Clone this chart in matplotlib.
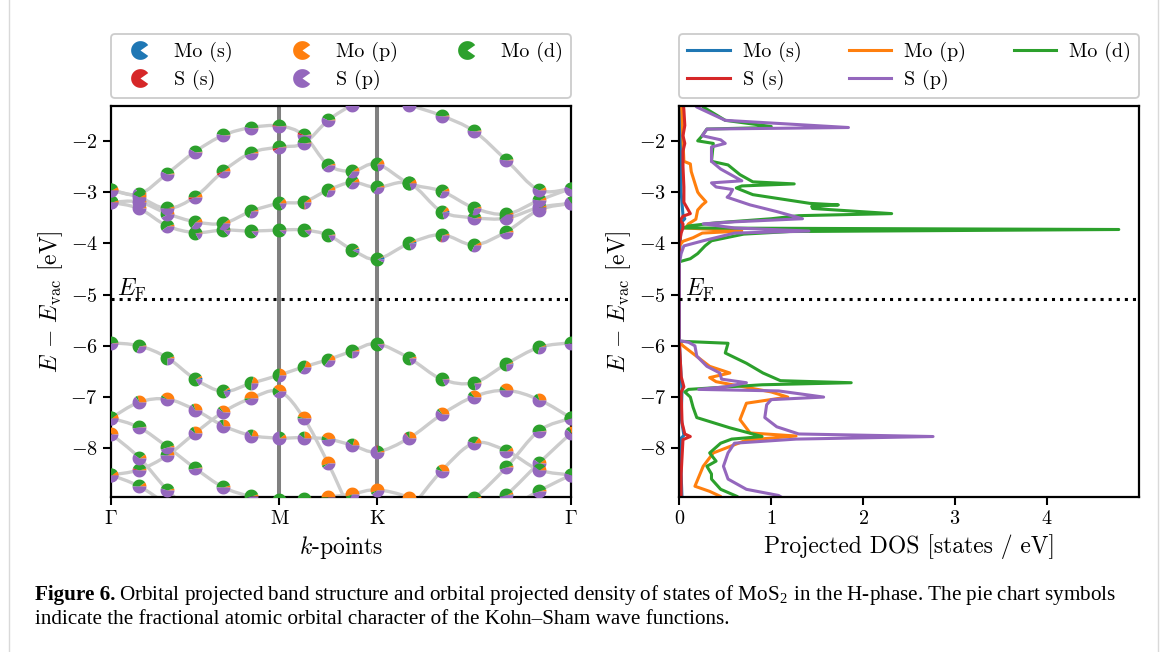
import numpy as np
import matplotlib
matplotlib.use('Agg')
import matplotlib.pyplot as plt
import matplotlib.transforms as mtransforms
from matplotlib.path import Path
from matplotlib.patches import PathPatch
from matplotlib.lines import Line2D

plt.rcParams['font.family'] = 'serif'
plt.rcParams['font.serif'] = ['cmr10']
plt.rcParams['mathtext.fontset'] = 'cm'
plt.rcParams['axes.formatter.use_mathtext'] = True
plt.rcParams['axes.unicode_minus'] = True

# ---------------------------------------------------------------- data
orbitals = ['Mo (s)', 'Mo (p)', 'Mo (d)', 'S (s)', 'S (p)']
orbital_colors = ['#1f77b4', '#ff7f0e', '#2ca02c', '#d62728', '#9467bd']

# hexagonal path Gamma-M-K-Gamma (units of 2pi/a) and k-points per segment
segment_lengths = [1 / np.sqrt(3), 1 / 3, 2 / 3]
segment_points = [6, 4, 6]
sym_labels = [r'$\Gamma$', 'M', 'K', r'$\Gamma$']

fermi_level = -5.09

# band energies at the 17 k-points (eV vs vacuum)
cb1 = [-3.20, -3.32, -3.66, -3.79, -3.74, -3.76, -3.74, -3.74, -3.84, -4.13, -4.31, -4.00, -3.83, -4.03, -3.77, -3.35, -3.22]
cb2 = [-3.20, -3.19, -3.42, -3.58, -3.61, -3.37, -3.22, -3.19, -2.96, -2.81, -2.91, -2.83, -3.38, -3.50, -3.51, -3.30, -3.22]
cb3 = [-2.96, -3.04, -2.64, -2.21, -1.89, -1.74, -1.71, -1.89, -2.47, -2.59, -2.45, -2.83, -2.98, -3.31, -3.43, -3.16, -2.93]
cb4 = [-2.96, -3.10, -3.32, -3.09, -2.59, -2.23, -2.12, -2.05, -1.60, -1.30, -1.10, -1.30, -1.51, -1.81, -2.38, -2.96, -2.93]
vb1 = [-5.94, -6.00, -6.23, -6.65, -6.89, -6.73, -6.57, -6.41, -6.27, -6.10, -5.96, -6.24, -6.65, -6.72, -6.35, -6.03, -5.94]
vb2 = [-7.41, -7.10, -7.04, -7.25, -7.56, -7.75, -7.80, -7.79, -7.82, -7.94, -8.07, -7.80, -7.34, -6.99, -6.87, -7.05, -7.41]
vb3 = [-8.52, -8.42, -8.14, -7.70, -7.29, -7.02, -6.89, -7.41, -8.29, -9.25, -9.60, -9.50, -9.30, -8.97, -8.37, -7.66, -7.41]
vb4 = [-7.41, -7.59, -7.97, -8.39, -8.76, -8.94, -9.00, -8.98, -8.95, -8.89, -8.81, -8.96, -9.30, -9.70, -9.80, -9.80, -9.80]
vb5 = [-7.72, -8.18, -8.81, -9.30, -9.70, -9.80, -9.80, -9.80, -9.80, -9.80, -9.80, -9.80, -9.80, -9.40, -8.91, -8.29, -7.70]
vb6 = [-8.52, -8.74, -9.10, -9.50, -9.80, -9.80, -9.80, -9.80, -9.80, -9.80, -9.80, -9.20, -8.44, -7.90, -8.05, -8.42, -8.52]
vb7 = [-9.80, -9.80, -9.80, -9.80, -9.80, -9.80, -9.80, -9.80, -9.80, -9.80, -9.80, -9.80, -9.80, -9.50, -9.20, -8.83, -8.52]
bands = [cb1, cb2, cb3, cb4, vb1, vb2, vb3, vb4, vb5, vb6, vb7]

# Mo (d) and Mo (p) weights per band and k-point; S (p) takes the rest
mo_d_weight = [
    [0.30, 0.35, 0.55, 0.80, 0.85, 0.85, 0.88, 0.85, 0.80, 0.85, 0.85, 0.70, 0.65, 0.60, 0.50, 0.35, 0.30],
    [0.30, 0.30, 0.50, 0.55, 0.55, 0.65, 0.70, 0.65, 0.60, 0.55, 0.60, 0.70, 0.65, 0.40, 0.45, 0.35, 0.30],
    [0.35, 0.30, 0.40, 0.40, 0.45, 0.45, 0.45, 0.40, 0.55, 0.55, 0.65, 0.70, 0.60, 0.65, 0.55, 0.40, 0.35],
    [0.35, 0.35, 0.45, 0.40, 0.45, 0.50, 0.50, 0.45, 0.40, 0.40, 0.40, 0.40, 0.45, 0.45, 0.45, 0.35, 0.35],
    [0.50, 0.65, 0.70, 0.75, 0.72, 0.55, 0.45, 0.45, 0.50, 0.70, 0.85, 0.75, 0.80, 0.75, 0.70, 0.65, 0.50],
    [0.45, 0.05, 0.05, 0.05, 0.10, 0.15, 0.15, 0.15, 0.10, 0.20, 0.20, 0.10, 0.05, 0.10, 0.10, 0.10, 0.45],
    [0.35, 0.40, 0.40, 0.10, 0.05, 0.05, 0.20, 0.05, 0.05, 0.05, 0.05, 0.05, 0.05, 0.50, 0.50, 0.50, 0.45],
    [0.45, 0.50, 0.50, 0.50, 0.45, 0.50, 0.60, 0.60, 0.10, 0.10, 0.05, 0.05, 0.40, 0.40, 0.40, 0.40, 0.40],
    [0.10, 0.30, 0.40, 0.40, 0.40, 0.40, 0.40, 0.40, 0.40, 0.40, 0.40, 0.40, 0.40, 0.40, 0.45, 0.30, 0.10],
    [0.35, 0.40, 0.40, 0.40, 0.40, 0.40, 0.40, 0.40, 0.40, 0.40, 0.40, 0.40, 0.10, 0.30, 0.40, 0.30, 0.35],
    [0.40, 0.40, 0.40, 0.40, 0.40, 0.40, 0.40, 0.40, 0.40, 0.40, 0.40, 0.40, 0.40, 0.40, 0.45, 0.50, 0.35],
]
mo_p_weight = [
    [0.05, 0.05, 0.05, 0.03, 0.02, 0.02, 0.02, 0.03, 0.03, 0.03, 0.02, 0.05, 0.05, 0.08, 0.05, 0.05, 0.05],
    [0.05, 0.05, 0.08, 0.10, 0.10, 0.05, 0.12, 0.10, 0.10, 0.10, 0.05, 0.10, 0.10, 0.05, 0.08, 0.05, 0.05],
    [0.08, 0.05, 0.03, 0.02, 0.02, 0.02, 0.02, 0.03, 0.05, 0.10, 0.12, 0.10, 0.08, 0.05, 0.05, 0.08, 0.08],
    [0.08, 0.08, 0.05, 0.10, 0.10, 0.05, 0.03, 0.03, 0.03, 0.03, 0.03, 0.03, 0.03, 0.03, 0.03, 0.08, 0.08],
    [0.02, 0.03, 0.05, 0.05, 0.05, 0.20, 0.25, 0.20, 0.15, 0.05, 0.02, 0.05, 0.02, 0.03, 0.03, 0.03, 0.02],
    [0.10, 0.30, 0.40, 0.30, 0.25, 0.20, 0.10, 0.25, 0.40, 0.20, 0.05, 0.25, 0.35, 0.35, 0.40, 0.30, 0.10],
    [0.10, 0.05, 0.10, 0.30, 0.35, 0.50, 0.40, 0.45, 0.55, 0.50, 0.50, 0.50, 0.50, 0.05, 0.05, 0.02, 0.10],
    [0.10, 0.02, 0.05, 0.03, 0.05, 0.05, 0.05, 0.05, 0.50, 0.55, 0.55, 0.50, 0.10, 0.10, 0.10, 0.10, 0.10],
    [0.30, 0.10, 0.05, 0.10, 0.10, 0.10, 0.10, 0.10, 0.10, 0.10, 0.10, 0.10, 0.10, 0.10, 0.05, 0.10, 0.30],
    [0.10, 0.10, 0.10, 0.10, 0.10, 0.10, 0.10, 0.10, 0.10, 0.10, 0.10, 0.10, 0.35, 0.15, 0.10, 0.10, 0.10],
    [0.10, 0.10, 0.10, 0.10, 0.10, 0.10, 0.10, 0.10, 0.10, 0.10, 0.10, 0.10, 0.10, 0.10, 0.10, 0.05, 0.10],
]
# small s contributions: (band, k-point) -> weight
mo_s_weight = {(0, 9): 0.05, (0, 10): 0.06, (0, 11): 0.04, (1, 12): 0.04, (4, 3): 0.04,
               (4, 4): 0.05, (4, 14): 0.03, (4, 15): 0.03, (5, 8): 0.02, (8, 14): 0.03}
s_s_weight = {(3, 3): 0.05, (3, 4): 0.05, (3, 6): 0.06, (2, 6): 0.03, (2, 7): 0.05,
              (1, 7): 0.03, (0, 12): 0.03, (5, 10): 0.03, (5, 11): 0.03, (6, 1): 0.03}

# projected DOS curves (energy, states / eV)
mo_s_energy = [-1.2, -2.0, -3.0, -3.45, -3.52, -3.60, -4.0, -4.35, -5.9, -6.6, -6.85, -7.4, -7.75, -7.80, -8.5, -9.0]
mo_s_dos = [0.02, 0.02, 0.02, 0.04, 0.06, 0.02, 0.01, 0.0, 0.0, 0.02, 0.03, 0.02, 0.05, 0.02, 0.02, 0.03]

mo_p_energy = [-1.2, -1.5, -2.0, -2.40, -2.45, -2.60, -2.83, -3.00, -3.05, -3.19, -3.25, -3.35, -3.53, -3.62,
               -3.70, -3.76, -3.80, -3.89, -3.96, -4.05, -5.92, -6.00, -6.40, -6.53, -6.62, -6.70, -6.90,
               -7.00, -7.12, -7.44, -7.70, -7.76, -7.84, -8.09, -8.35, -8.74, -8.84, -8.94, -9.05]
mo_p_dos = [0.02, 0.03, 0.04, 0.05, 0.12, 0.13, 0.17, 0.20, 0.22, 0.29, 0.25, 0.20, 0.18, 0.10,
            0.07, 0.68, 0.25, 0.15, 0.04, 0.0, 0.0, 0.04, 0.33, 0.55, 0.33, 0.40, 1.00,
            1.18, 0.73, 0.66, 0.77, 1.27, 0.73, 0.37, 0.26, 0.17, 0.33, 0.45, 0.50]

mo_d_energy = [-1.2, -1.34, -1.60, -1.72, -1.74, -1.77, -1.92, -2.00, -2.05, -2.40, -2.47, -2.66, -2.80,
               -2.84, -2.88, -2.92, -3.05, -3.22, -3.25, -3.28, -3.32, -3.42, -3.46, -3.52, -3.60, -3.66,
               -3.70, -3.73, -3.77, -3.82, -3.95, -4.05, -4.20, -4.30, -4.36, -5.91, -5.95, -6.14, -6.34,
               -6.53, -6.68, -6.72, -6.76, -6.85, -6.90, -7.00, -7.20, -7.40, -7.60, -7.72, -7.77, -7.82,
               -7.90, -8.09, -8.25, -8.35, -8.50, -8.60, -8.80, -8.94, -9.05]
mo_d_dos = [0.22, 0.26, 0.50, 1.00, 0.97, 0.30, 0.24, 0.20, 0.37, 0.35, 0.53, 0.66, 0.80,
            1.25, 0.68, 0.62, 0.80, 1.42, 1.73, 1.44, 1.45, 2.31, 1.30, 1.00, 0.40, 0.10,
            0.05, 4.78, 1.20, 0.70, 0.35, 0.28, 0.20, 0.12, 0.0, 0.0, 0.53, 0.50, 0.73,
            0.91, 1.10, 1.87, 0.90, 0.10, 0.06, 0.12, 0.15, 0.19, 0.55, 0.80, 0.90, 0.57,
            0.45, 0.33, 0.40, 0.30, 0.35, 0.35, 0.45, 0.63, 0.70]

s_s_energy = [-1.2, -1.4, -1.7, -1.9, -2.05, -2.2, -2.5, -2.9, -3.2, -3.42, -3.47, -3.55, -3.62, -3.70, -3.80,
              -4.0, -5.9, -6.6, -6.80, -6.9, -7.5, -7.72, -7.77, -7.83, -8.5, -9.0]
s_s_dos = [0.04, 0.05, 0.06, 0.04, 0.06, 0.04, 0.04, 0.05, 0.05, 0.12, 0.04, 0.01, 0.04, 0.04, 0.02,
           0.0, 0.0, 0.02, 0.05, 0.02, 0.03, 0.06, 0.12, 0.04, 0.02, 0.02]

s_p_energy = [-1.2, -1.34, -1.60, -1.74, -1.77, -1.90, -1.98, -2.05, -2.12, -2.40, -2.55, -2.78, -2.82,
              -2.90, -2.95, -3.05, -3.10, -3.25, -3.38, -3.52, -3.58, -3.62, -3.70, -3.76, -3.80, -3.95,
              -4.05, -4.20, -4.40, -5.90, -5.93, -6.00, -6.20, -6.40, -6.53, -6.65, -6.72, -6.80, -6.85,
              -6.88, -7.00, -7.05, -7.15, -7.40, -7.58, -7.72, -7.77, -7.82, -7.90, -8.09, -8.35, -8.60,
              -8.80, -8.92, -9.05]
s_p_dos = [0.12, 0.19, 0.50, 1.84, 0.30, 0.25, 0.45, 0.50, 0.35, 0.35, 0.45, 0.68, 0.35,
           0.40, 0.58, 0.55, 0.52, 0.77, 1.06, 1.34, 0.60, 0.26, 0.60, 1.41, 0.60, 0.26,
           0.05, 0.02, 0.0, 0.0, 0.10, 0.17, 0.19, 0.30, 0.44, 0.46, 0.73, 0.50, 0.21,
           1.08, 1.57, 1.00, 0.95, 0.93, 1.06, 1.30, 2.76, 1.27, 0.60, 0.53, 0.48, 0.53,
           0.73, 1.08, 1.20]

pdos = [(mo_s_energy, mo_s_dos), (mo_p_energy, mo_p_dos), (mo_d_energy, mo_d_dos),
        (s_s_energy, s_s_dos), (s_p_energy, s_p_dos)]

# ---------------------------------------------------------------- helpers
def smooth_path(x, y):
    """Catmull-Rom curve through the points, as cubic Bezier segments."""
    pts = np.column_stack([x, y])
    ext = np.vstack([pts[0], pts, pts[-1]])
    verts, codes = [pts[0]], [Path.MOVETO]
    for i in range(len(pts) - 1):
        p0, p1, p2, p3 = ext[i], ext[i + 1], ext[i + 2], ext[i + 3]
        verts += [p1 + (p2 - p0) / 6, p2 - (p3 - p1) / 6, p2]
        codes += [Path.CURVE4] * 3
    return Path(verts, codes)


def wedge_verts(a0, a1):
    t = np.linspace(a0, a1, max(3, int((a1 - a0) / (2 * np.pi) * 60) + 2))
    return np.vstack([[0, 0], np.column_stack([np.cos(t), np.sin(t)]), [0, 0]])


def pie_marker(ax, x, y, weights, size):
    start = 0.0
    for w, c in zip(weights, orbital_colors):
        if w <= 0:
            continue
        verts = wedge_verts(2 * np.pi * start, 2 * np.pi * (start + w))
        m = np.abs(verts).max()
        ax.scatter([x], [y], marker=verts, s=size * m ** 2, color=c,
                   linewidths=0, zorder=4)
        start += w


# k-point positions along the path
sym_pos = np.concatenate([[0], np.cumsum(segment_lengths)])
kpts = [np.linspace(sym_pos[0], sym_pos[1], segment_points[0] + 1)]
for i in range(1, 3):
    kpts.append(np.linspace(sym_pos[i], sym_pos[i + 1], segment_points[i] + 1)[1:])
kpts = np.concatenate(kpts)

# ---------------------------------------------------------------- figure
fig = plt.figure(figsize=(11.68, 6.52), dpi=100)
ax1 = fig.add_axes([111 / 1168, 1 - 497 / 652, 460.3 / 1168, 391 / 652])
ax2 = fig.add_axes([679.3 / 1168, 1 - 497 / 652, 459.7 / 1168, 391 / 652])

ylim = (-8.95, -1.32)
label_size = 17
tick_size = 14.5

# band structure
for pos in sym_pos[1:-1]:
    ax1.axvline(pos, color='0.5', lw=2.9, zorder=1)
for b in bands:
    ax1.add_patch(PathPatch(smooth_path(kpts, b), fill=False, edgecolor='0.8',
                            lw=2.4, capstyle='round', zorder=2))
for bi, b in enumerate(bands):
    for ki, e in enumerate(b):
        if e < ylim[0] - 0.2 or e > ylim[1] + 0.2:
            continue
        ms = mo_s_weight.get((bi, ki), 0.0)
        ss = s_s_weight.get((bi, ki), 0.0)
        d = mo_d_weight[bi][ki]
        p = mo_p_weight[bi][ki]
        sp = max(0.0, 1 - ms - p - d - ss)
        pie_marker(ax1, kpts[ki], e, [ms, p, d, ss, sp], 100)

ax1.axhline(fermi_level, color='k', ls=':', lw=2.2, zorder=3)
ax1.set_xlim(sym_pos[0], sym_pos[-1])
ax1.set_ylim(*ylim)
ax1.set_xticks(sym_pos)
ax1.set_xticklabels(sym_labels)
ax1.set_xlabel(r'$k$-points', fontsize=label_size)

# projected density of states
for (e, d), c in zip(pdos, orbital_colors):
    ax2.plot(d, e, color=c, lw=2.2)
ax2.axhline(fermi_level, color='k', ls=':', lw=2.2)
ax2.set_xlim(0, 5)
ax2.set_ylim(*ylim)
ax2.set_xticks([0, 1, 2, 3, 4])
ax2.set_xlabel('Projected DOS [states / eV]', fontsize=label_size)

for ax in (ax1, ax2):
    ax.set_ylabel(r'$E\,-\,E_{\mathrm{vac}}$ [eV]', fontsize=label_size)
    ax.text(0.012, fermi_level + 0.07, r'$E_{\mathrm{F}}$', fontsize=label_size,
            transform=mtransforms.blended_transform_factory(ax.transAxes, ax.transData))
    ax.set_yticks(np.arange(-8, -1))
    ax.tick_params(direction='out', length=6, width=1.5, labelsize=tick_size)
    for s in ax.spines.values():
        s.set_linewidth(1.6)

# legends, ordered column by column
order = [0, 3, 1, 4, 2]
pac = wedge_verts(np.radians(35), np.radians(325))
pie_handles = [Line2D([], [], ls='None', marker=pac, markersize=13.5, color=orbital_colors[i],
                      markeredgewidth=0) for i in order]
line_handles = [Line2D([], [], color=orbital_colors[i], lw=2.2) for i in order]
labels = [orbitals[i] for i in order]
leg_kw = dict(loc='lower left', bbox_to_anchor=(0, 1.02, 1, 0.1), mode='expand', ncol=3,
              fontsize=tick_size, handlelength=2.1, handletextpad=0.65, labelspacing=0.4,
              borderaxespad=0, fancybox=True, edgecolor='0.8', framealpha=1)
for ax, handles in ((ax1, pie_handles), (ax2, line_handles)):
    leg = ax.legend(handles, labels, **leg_kw)
    leg.get_frame().set_linewidth(1.3)

# caption
cap_kw = dict(family='Liberation Serif', fontsize=15.2, va='baseline')
t0 = fig.text(35 / 1168, 1 - 600 / 652, 'Figure 6.', fontweight='bold', **cap_kw)
fig.canvas.draw()
bb = t0.get_window_extent()
fig.text((bb.x1 + 4) / 1168, 1 - 600 / 652,
         r'Orbital projected band structure and orbital projected density of states of '
         r'MoS$_{\mathregular{2}}$ in the H-phase. The pie chart symbols', **cap_kw)
fig.text(35 / 1168, 1 - 624 / 652,
         'indicate the fractional atomic orbital character of the Kohn\u2013Sham wave functions.',
         **cap_kw)

# page frame
for xf in (9 / 1168, 1158 / 1168):
    fig.add_artist(Line2D([xf, xf], [0, 1], transform=fig.transFigure, color='0.85', lw=1))

fig.savefig('out.png', dpi=100)
